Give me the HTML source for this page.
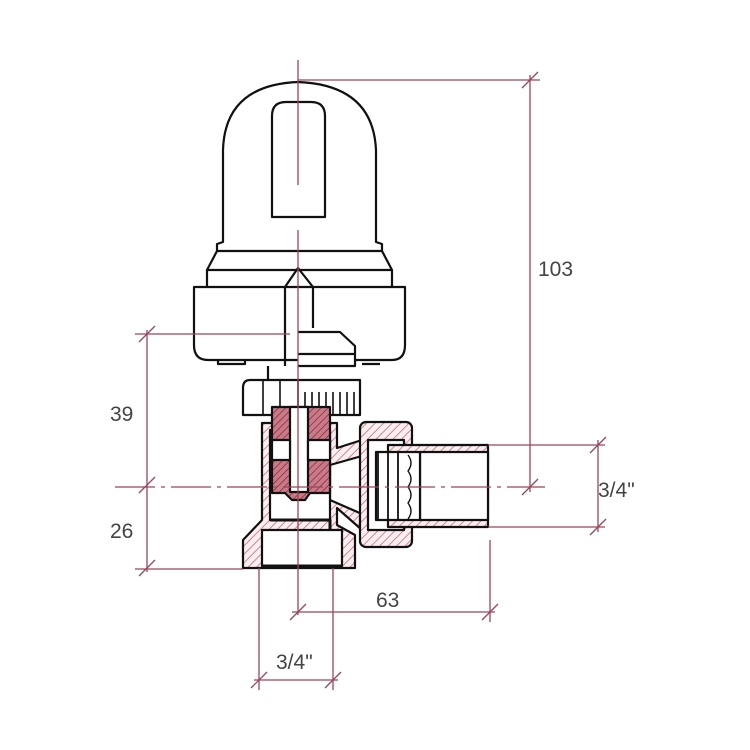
<!DOCTYPE html>
<html><head><meta charset="utf-8"><style>
html,body{margin:0;padding:0;background:#fff;width:750px;height:750px;overflow:hidden}
text{font-family:"Liberation Sans",sans-serif;font-size:21px;fill:#444;}
</style></head><body>
<svg width="750" height="750" viewBox="0 0 750 750" xmlns="http://www.w3.org/2000/svg">
<defs>
<pattern id="h" width="6" height="6" patternUnits="userSpaceOnUse" patternTransform="rotate(45)">
<rect width="6" height="6" fill="#fbeef0"/><line x1="0" y1="0" x2="0" y2="6" stroke="#c88a96" stroke-width="2"/></pattern>
<pattern id="r" width="5" height="5" patternUnits="userSpaceOnUse" patternTransform="rotate(45)">
<rect width="5" height="5" fill="#c97a88"/><line x1="0" y1="0" x2="0" y2="5" stroke="#8a2a3c" stroke-width="1.5"/></pattern>
</defs>
<g fill="none" stroke="#111" stroke-width="2.2" stroke-linejoin="round">
<!-- cap dome -->
<path d="M223,242 L223,150 Q225,85 298,82 Q373,85 376,150 L376,242 L382,244 L382,251 L217,251 L217,244 L223,242 Z" fill="#fff"/>
<path d="M217,251 L207,270 L392,270 L382,251"/>
<path d="M207,270 L207,287 M392,270 L392,287"/>
<path d="M272,217 L272,116 Q272,102 286,102 L311,102 Q325,102 325,116 L325,217 Z"/>
<!-- ring -->
<path d="M194,287 L405,287 L405,345 Q405,360 392,360 L208,360 Q194,360 194,345 Z" fill="#fff"/>
<path d="M218,360 L218,364 L245,364 L245,360 M362,364 L380,364"/>
<!-- pointer -->
<path d="M285,287 L298,268 L313,287 M285,287 L285,366 M313,287 L313,328"/>
<path d="M298,332 L340,332 L355,346 L355,366 L298,366 M298,354 L355,354" fill="#fff"/>
<path d="M268,366 L268,380"/>
<!-- knurled nut -->
<path d="M250,380 L360,380 L360,415 L243,415 L243,388 Q243,380 250,380 Z" fill="#fff"/>
<path d="M263,380 L263,415 M280,380 L280,415 M298,380 L298,415" stroke-width="1.6"/>
<path d="M305,392 L305,415 M312,392 L312,415 M319,392 L319,415 M326,392 L326,415 M333,392 L333,415 M340,392 L340,415 M347,392 L347,415 M354,392 L354,415" stroke-width="1.6"/>
<!-- body hatched -->
<path d="M262,423 L337,423 L337,448 L362,440 L362,530 L337,508 L337,525 L355,535 L355,568 L243,568 L243,540 L262,520 Z" fill="url(#h)"/>
<path d="M330,465 L362,456 L362,514 L330,500 Z" fill="#fff"/>
<rect x="270" y="430" width="60" height="90" fill="#fff"/>
<rect x="262" y="530" width="80" height="36" fill="#fff"/>
<path d="M270,520 L330,520 L330,530 M262,566 L342,566" stroke-width="3"/>
<!-- union nut -->
<rect x="360" y="422" width="52" height="125" rx="6" fill="url(#h)"/>
<rect x="368" y="440" width="36" height="90" fill="#fff"/>
<!-- tailpiece -->
<rect x="388" y="445" width="100" height="82" fill="url(#h)"/>
<rect x="420" y="452" width="68" height="68" fill="#fff"/>
<rect x="376" y="452" width="44" height="68" fill="#fff"/>
<path d="M378,452 L378,520 M388,452 L388,520 M398,452 L398,520" stroke-width="1.8"/>
<path d="M408,455 q6,8 0,16 q6,8 0,16 q6,8 0,16 q6,8 0,16" stroke-width="1.4"/>
<!-- cartridge -->
<path d="M272,407 L330,407 L330,493 L310,493 L305,500 L292,500 L285,493 L272,493 Z" fill="url(#r)"/>
<rect x="290" y="407" width="18" height="85" fill="#fff"/>
<rect x="272" y="440" width="18" height="20" fill="#fff"/>
<rect x="308" y="440" width="22" height="20" fill="#fff"/>
</g>
<!-- dimensions -->
<g stroke="#9a4658" stroke-width="1.3" fill="none">
<path d="M298,60 L298,185 M298,230 L298,615"/>
<path d="M115,487 L545,487" stroke-dasharray="40,6,4,6"/>
<path d="M298,80 L540,80 M530,75 L530,492"/>
<path d="M522,88 L538,72 M522,495 L538,479"/>
<path d="M135,334 L290,334 M147,330 L147,572 M135,569 L243,569"/>
<path d="M139,342 L155,326 M139,493 L155,477 M139,576 L155,560"/>
<path d="M488,445 L605,445 M488,527 L605,527 M598,440 L598,532"/>
<path d="M590,453 L606,437 M590,535 L606,519"/>
<path d="M490,540 L490,622 M292,612 L495,612"/>
<path d="M290,620 L306,604 M482,620 L498,604"/>
<path d="M259,568 L259,690 M333,568 L333,690 M254,680 L338,680"/>
<path d="M251,688 L267,672 M325,688 L341,672"/>
</g>
<text x="538" y="276">103</text>
<text x="110" y="421">39</text>
<text x="110" y="538">26</text>
<text x="598" y="497">3/4"</text>
<text x="376" y="607">63</text>
<text x="276" y="669">3/4"</text>
</svg>
</body></html>
